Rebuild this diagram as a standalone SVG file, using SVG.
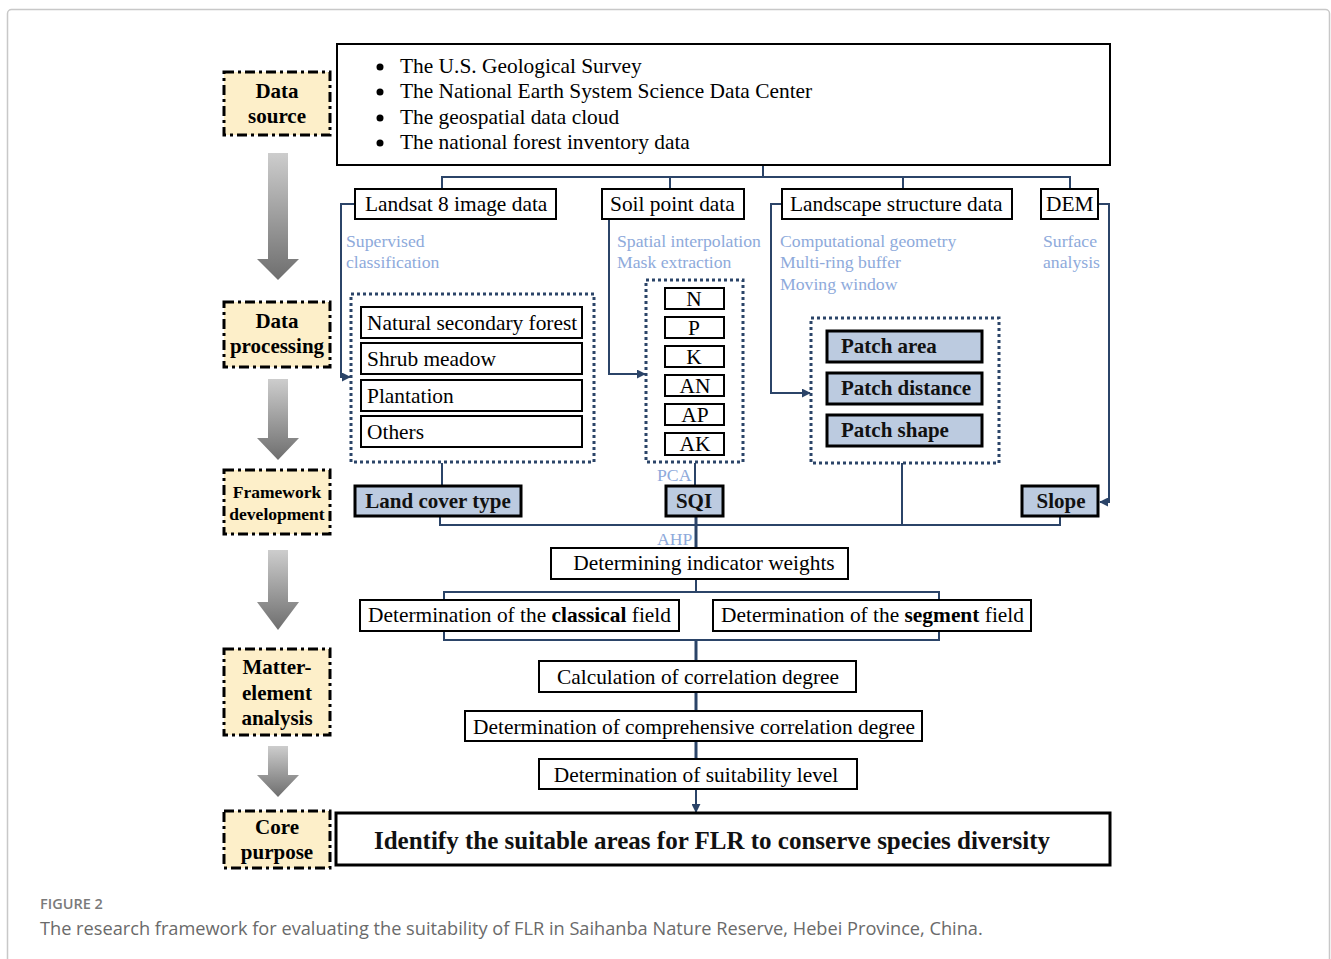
<svg xmlns="http://www.w3.org/2000/svg" width="1331" height="959" viewBox="0 0 1331 959">
<defs>
<linearGradient id="ga" x1="0" y1="0" x2="0" y2="1">
<stop offset="0" stop-color="#cdcdcd"/>
<stop offset="1" stop-color="#6e6e6e"/>
</linearGradient>
<marker id="ah" viewBox="0 0 10 10" refX="9" refY="5" markerWidth="9" markerHeight="9" orient="auto" markerUnits="userSpaceOnUse">
<path d="M0,0 L10,5 L0,10 z" fill="#2b4468"/>
</marker>
<style>
.stage{fill:#fdefc9;stroke:#000;stroke-width:3;stroke-dasharray:10 4 3 4}
.stxt{font-family:"Liberation Serif",serif;font-weight:bold;font-size:21px;text-anchor:middle;fill:#000}
.box{fill:#fff;stroke:#000;stroke-width:2}
.bbox{fill:#bccbe0;stroke:#000;stroke-width:3}
.t{font-family:"Liberation Serif",serif;font-size:21.4px;fill:#000}
.tb{font-family:"Liberation Serif",serif;font-size:21px;font-weight:bold;fill:#111}
.lb{font-family:"Liberation Serif",serif;font-size:17.7px;fill:#8eaadb}
.dot{fill:none;stroke:#2b4468;stroke-width:3;stroke-dasharray:3 3}
.c{fill:none;stroke:#2b4468;stroke-width:2}
.mid{text-anchor:middle}
</style>
</defs>
<rect x="7.5" y="9.5" width="1322" height="960" rx="4" fill="#fff" stroke="#c8c8c8" stroke-width="1.5"/>

<g id="stages">
<g id="stage-data-source"><rect class="stage" x="224" y="72" width="106" height="63"/><text class="stxt" x="277" y="98">Data</text><text class="stxt" x="277" y="123">source</text></g>
<g id="stage-data-processing"><rect class="stage" x="224" y="302" width="106" height="65"/><text class="stxt" x="277" y="328">Data</text><text class="stxt" x="277" y="353">processing</text></g>
<g id="stage-framework"><rect class="stage" x="224" y="470" width="106" height="64"/><text class="stxt" x="277" y="498" style="font-size:17.5px">Framework</text><text class="stxt" x="277" y="520" style="font-size:17.5px">development</text></g>
<g id="stage-matter"><rect class="stage" x="224" y="649" width="106" height="86"/><text class="stxt" x="277" y="674">Matter-</text><text class="stxt" x="277" y="700">element</text><text class="stxt" x="277" y="725">analysis</text></g>
<g id="stage-core"><rect class="stage" x="224" y="811" width="106" height="57"/><text class="stxt" x="277" y="834">Core</text><text class="stxt" x="277" y="859">purpose</text></g>
</g>

<g id="stage-arrows">
<path d="M268,153 H288 V259 H299 L278,280 L257,259 H268 Z" fill="url(#ga)"/>
<path d="M268,379 H288 V438 H299 L278,460 L257,438 H268 Z" fill="url(#ga)"/>
<path d="M268,550 H288 V602 H299 L278,630 L257,602 H268 Z" fill="url(#ga)"/>
<path d="M268,746 H288 V775 H299 L278,797 L257,775 H268 Z" fill="url(#ga)"/>
</g>

<g id="connectors">
<path class="c" d="M763,165 V177 M442,189 V177 H1070 V189 M670,177 V189 M903,177 V189"/>
<path class="c" d="M354,204 H341 V377 H350" marker-end="url(#ah)"/>
<path class="c" d="M609,219 V374 H645" marker-end="url(#ah)"/>
<path class="c" d="M781,204 H771 V393 H810" marker-end="url(#ah)"/>
<path class="c" d="M1098,204 H1109 V502 H1100" marker-end="url(#ah)"/>
<path class="c" d="M442,463 V485"/>
<path class="c" d="M695,463 V485"/>
<path class="c" d="M440,516 V525 H1060 V516 M902,463 V525"/>
<path class="c" d="M696,516 V548" style="stroke-width:3"/>
<path class="c" d="M696,579 V592 M444,600 V592 H939 V600"/>
<path class="c" d="M444,631 V640 H939 V631"/>
<path class="c" d="M696,640 V661" style="stroke-width:3"/>
<path class="c" d="M696,692 V711 M696,741 V759" style="stroke-width:3"/>
<path class="c" d="M696,789 V812" marker-end="url(#ah)"/>
</g>

<g id="sources"><rect class="box" x="337" y="44" width="773" height="121"/>
<circle cx="380" cy="67" r="3.5"/><circle cx="380" cy="92" r="3.5"/><circle cx="380" cy="118" r="3.5"/><circle cx="380" cy="143" r="3.5"/>
<text class="t" x="400" y="73">The U.S. Geological Survey</text>
<text class="t" x="400" y="98">The National Earth System Science Data Center</text>
<text class="t" x="400" y="124">The geospatial data cloud</text>
<text class="t" x="400" y="149">The national forest inventory data</text></g>

<g id="landsat"><rect class="box" x="355" y="189" width="201" height="30"/><text class="t" x="365" y="211">Landsat 8 image data</text></g>
<g id="soil"><rect class="box" x="602" y="189" width="142" height="30"/><text class="t" x="610" y="211">Soil point data</text></g>
<g id="landscape"><rect class="box" x="782" y="189" width="230" height="30"/><text class="t" x="790" y="211">Landscape structure data</text></g>
<g id="dem"><rect class="box" x="1041" y="189" width="57" height="30"/><text class="t" x="1046" y="211">DEM</text></g>

<g id="methods">
<text class="lb" x="346" y="247">Supervised</text><text class="lb" x="346" y="268">classification</text>
<text class="lb" x="617" y="247">Spatial interpolation</text><text class="lb" x="617" y="268">Mask extraction</text>
<text class="lb" x="780" y="247">Computational geometry</text><text class="lb" x="780" y="268">Multi-ring buffer</text><text class="lb" x="780" y="290">Moving window</text>
<text class="lb" x="1043" y="247">Surface</text><text class="lb" x="1043" y="268">analysis</text>
<text class="lb" x="657" y="481">PCA</text>
<text class="lb" x="657" y="545">AHP</text>
</g>

<g id="landcover-group"><rect class="dot" x="351" y="294" width="243" height="168"/>
<rect class="box" x="361" y="307" width="221" height="31"/><text class="t" x="367" y="330">Natural secondary forest</text>
<rect class="box" x="361" y="343" width="221" height="31"/><text class="t" x="367" y="366">Shrub meadow</text>
<rect class="box" x="361" y="380" width="221" height="31"/><text class="t" x="367" y="403">Plantation</text>
<rect class="box" x="361" y="416" width="221" height="31"/><text class="t" x="367" y="439">Others</text></g>

<g id="soil-group"><rect class="dot" x="646" y="280" width="97" height="182"/>
<rect class="box" x="665" y="288" width="59" height="21"/><text class="t mid" x="694" y="306">N</text>
<rect class="box" x="665" y="317" width="59" height="21"/><text class="t mid" x="694" y="335">P</text>
<rect class="box" x="665" y="346" width="59" height="21"/><text class="t mid" x="694" y="364">K</text>
<rect class="box" x="665" y="375" width="59" height="21"/><text class="t mid" x="695" y="393">AN</text>
<rect class="box" x="665" y="404" width="59" height="21"/><text class="t mid" x="695" y="422">AP</text>
<rect class="box" x="665" y="433" width="59" height="22"/><text class="t mid" x="695" y="451">AK</text></g>

<g id="landscape-group"><rect class="dot" x="811" y="318" width="188" height="145"/>
<rect class="bbox" x="827" y="331" width="155" height="31"/><text class="tb" x="841" y="353">Patch area</text>
<rect class="bbox" x="827" y="373" width="155" height="31"/><text class="tb" x="841" y="395">Patch distance</text>
<rect class="bbox" x="827" y="415" width="155" height="31"/><text class="tb" x="841" y="437">Patch shape</text></g>

<g id="landcover-type"><rect class="bbox" x="355" y="486" width="166" height="30"/><text class="tb mid" x="438" y="508">Land cover type</text></g>
<g id="sqi"><rect class="bbox" x="666" y="486" width="57" height="30"/><text class="tb mid" x="694" y="508">SQI</text></g>
<g id="slope"><rect class="bbox" x="1022" y="486" width="76" height="30"/><text class="tb mid" x="1061" y="508">Slope</text></g>

<g id="weights"><rect class="box" x="551" y="548" width="297" height="31"/><text class="t mid" x="704" y="570">Determining indicator weights</text></g>
<g id="classical"><rect class="box" x="360" y="600" width="319" height="31"/><text class="t" x="368" y="622">Determination of the <tspan font-weight="bold">classical</tspan> field</text></g>
<g id="segment"><rect class="box" x="713" y="600" width="318" height="31"/><text class="t" x="721" y="622">Determination of the <tspan font-weight="bold">segment</tspan> field</text></g>
<g id="calc"><rect class="box" x="539" y="661" width="317" height="31"/><text class="t mid" x="698" y="684">Calculation of correlation degree</text></g>
<g id="comprehensive"><rect class="box" x="465" y="711" width="457" height="30"/><text class="t mid" x="694" y="734">Determination of comprehensive correlation degree</text></g>
<g id="suitability"><rect class="box" x="539" y="759" width="318" height="30"/><text class="t mid" x="696" y="782">Determination of suitability level</text></g>
<g id="purpose"><rect class="box" x="336" y="813" width="774" height="52" style="stroke-width:3"/><text class="tb mid" x="712" y="849" style="font-size:25px">Identify the suitable areas for FLR to conserve species diversity</text></g>

<g id="caption">
<text x="40" y="909" font-family="'Open Sans',sans-serif" font-size="14.5" font-weight="600" fill="#7a7a7a">FIGURE 2</text>
<text x="40" y="935" font-family="'Open Sans',sans-serif" font-size="18.2" fill="#6a6a6a">The research framework for evaluating the suitability of FLR in Saihanba Nature Reserve, Hebei Province, China.</text>
</g>
</svg>
